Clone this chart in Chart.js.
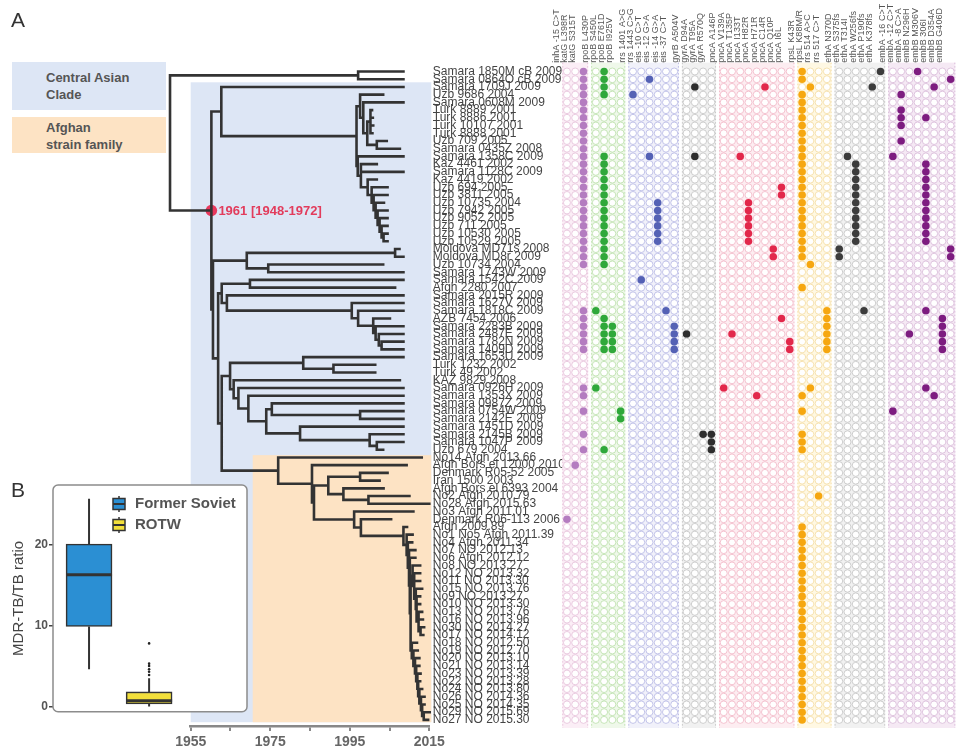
<!DOCTYPE html>
<html>
<head>
<meta charset="utf-8">
<title>MDR-TB phylogeny and resistance mutations</title>
<script src="https://cdn.jsdelivr.net/npm/chart.js@4.4.1/dist/chart.umd.min.js"></script>
<style>
  html, body { margin: 0; padding: 0; background: #fff; }
  #page { position: relative; width: 963px; height: 751px; overflow: hidden; font-family: 'Liberation Sans', Arial, sans-serif; }
  #page canvas { position: absolute; }
  .tag { position: absolute; font-size: 21px; color: #333; }
  .clade { position: absolute; left: 12px; width: 154px; box-sizing: border-box; padding-left: 34px;
           font-size: 13px; font-weight: bold; color: #555; line-height: 17px; }
</style>
</head>
<body>
<div id="page">
  <canvas id="tree" width="570" height="751" style="left:0;top:0"></canvas>
  <canvas id="matrix" width="423" height="751" style="left:540px;top:0"></canvas>
  <canvas id="ratio" width="255" height="250" style="left:0;top:470px"></canvas>
  <div class="tag" style="left:11px;top:8px">A</div>
  <div class="tag" style="left:11px;top:478px">B</div>
  <div class="clade" style="top:62px;height:48px;padding-top:7px;background:#dde6f5">Central Asian<br>Clade</div>
  <div class="clade" style="top:117px;height:36px;padding-top:2px;background:#fde3c4">Afghan<br>strain family</div>
</div>
<script>
// ---- tree tips (top to bottom) ----
const tipLabels = [
  'Samara 1850M cB 2009', 'Samara 0864O cB 2009', 'Samara 1709J 2009', 'Uzb 9686 2004', 'Samara 0608M 2009',
  'Turk 8889 2001', 'Turk 8886 2001', 'Turk 10107 2001', 'Turk 8888 2001', 'Uzb 709 2005',
  'Samara 0435Z 2008', 'Samara 1358C 2009', 'Kaz 4461 2002', 'Samara 1128C 2009', 'Kaz 4419 2002',
  'Uzb 694 2005', 'Uzb 3811 2005', 'Uzb 10735 2004', 'Uzb 7942 2005', 'Uzb 9052 2005',
  'Uzb 711 2005', 'Uzb 10530 2005', 'Uzb 10529 2005', 'Moldova MD71s 2008', 'Moldova MD8r 2009',
  'Uzb 10734 2004', 'Samara 1743W 2009', 'Samara 1542C 2009', 'Afgh 2280 2007', 'Samara 2015R 2009',
  'Samara 1627V 2009', 'Samara 1818C 2009', 'AZB 7454 2006', 'Samara 2283B 2009', 'Samara 2487E 2009',
  'Samara 1782N 2009', 'Samara 1409D 2009', 'Samara 1653U 2009', 'Turk 1232 2002', 'Turk 49 2002',
  'KAZ 9829 2008', 'Samara 0926H 2009', 'Samara 1353X 2009', 'Samara 0987Z 2009', 'Samara 0754W 2009',
  'Samara 2142E 2009', 'Samara 1451D 2009', 'Samara 2145B 2009', 'Samara 1047P 2009', 'Uzb 679 2004',
  'No14 Afgh 2013.66', 'Afgh Bors el 12000 2010', 'Denmark R05-52 2005', 'Iran 1500 2003', 'Afgh Bors el 6393 2004',
  'No2 Afgh 2010.79', 'No28 Afgh 2015.63', 'No3 Afgh 2011.01', 'Denmark R06-113 2006', 'Afgh 2009.89',
  'No1 No5 Afgh 2011.39', 'No4 Afgh 2011.34', 'No7 NO 2012.13', 'No6 Afgh 2012.12', 'No8 NO 2013.27',
  'No12 NO 2013.32', 'No11 NO 2013.30', 'No15 NO 2013.76', 'No9 NO 2013.27', 'No10 NO 2013.30',
  'No13 NO 2013.76', 'No16 NO 2013.96', 'No30 NO 2014.27', 'No17 NO 2014.12', 'No18 NO 2012.50',
  'No19 NO 2012.70', 'No20 NO 2013.10', 'No21 NO 2013.14', 'No23 NO 2013.39', 'No22 NO 2013.28',
  'No24 NO 2013.80', 'No26 NO 2014.36', 'No25 NO 2014.35', 'No29 NO 2015.69', 'No27 NO 2015.30'
];
// where each tip ends on the time axis
const tipYears = [
  2008.5, 2008.5, 2008.5, 2003.4, 2008.5, 2000.6, 2000.8, 2000.9, 2000.7, 2004.3,
  2007.6, 2008.5, 2001.8, 2008.5, 2001.8, 2004.5, 2004.5, 2003.6, 2004.5, 2004.5,
  2004.5, 2004.5, 2004.5, 2007.5, 2008.5, 2003.4, 2008.5, 2008.5, 2006.4, 2008.5,
  2008.5, 2008.5, 2005.1, 2008.5, 2008.5, 2008.5, 2008.5, 2008.5, 2001.4, 2001.4,
  2007.6, 2008.5, 2008.5, 2008.5, 2008.5, 2008.5, 2008.5, 2008.5, 2008.5, 2003.4,
  2013.1, 2009.3, 2004.5, 2002.5, 2003.5, 2010.0, 2015.0, 2011.0, 2005.4, 2009.4,
  2010.8, 2010.7, 2011.5, 2011.5, 2012.7, 2012.7, 2012.7, 2013.2, 2012.7, 2012.7,
  2013.2, 2013.4, 2013.7, 2013.5, 2011.9, 2012.1, 2012.5, 2012.5, 2012.8, 2012.7,
  2013.2, 2013.8, 2013.8, 2015.1, 2014.7
];
// internal nodes: [id, year, children...]  (numbers = tip rows, strings = nodes)
const treeNodes = [
  ['root', 1949.8, 'out', 'mrca'], ['out', 1997.1, 1, 2],
  ['mrca', 1960.2, 'b', 'x'], ['b', 1962.7, 3, 'c'], ['c', 1996.7, 'c1', 'c2'],
  ['c1', 1997.6, 4, 'c1a'], ['c1a', 1998.4, 5, 'c1b'], ['c1b', 1999.4, 'turk', 'c1c'],
  ['turk', 2000.2, 6, 7, 8, 9], ['c1c', 2001.8, 10, 11],
  ['c2', 1997.0, 12, 'c2a'], ['c2a', 1997.8, 13, 14, 'u1'], ['u1', 1999.5, 15, 'u2'], ['u2', 2000.5, 16, 'u3'],
  ['u3', 2001.0, 17, 'u4'], ['u4', 2001.5, 18, 'u5'], ['u5', 2002.0, 19, 'u6'], ['u6', 2002.5, 20, 'u7'],
  ['u7', 2003.0, 21, 'u8'], ['u8', 2003.5, 22, 23],
  ['x', 1960.6, 'd', 's'], ['d', 1969.1, 'md', 'd2'], ['md', 2006.4, 24, 25], ['d2', 1974.5, 26, 27],
  ['s', 1961.9, 'q2', 't'], ['q2', 1962.8, 'e', 'q1'], ['e', 1969.9, 28, 29], ['q1', 1964.1, 30, 'f'],
  ['f', 1995.5, 31, 'g'], ['g', 1997.1, 32, 'h'], ['h', 2000.9, 33, 'h1'], ['h1', 2001.5, 34, 'h2'],
  ['h2', 2002.3, 35, 'h3'], ['h3', 2003.0, 36, 37],
  ['t', 1962.8, 'u', 'af'], ['u', 1964.9, 'k', 'v1'], ['k', 1983.3, 38, 'k1'], ['k1', 1990.9, 39, 40],
  ['v1', 1965.8, 41, 'v2'], ['v2', 1967.0, 42, 'v3'], ['v3', 1969.5, 43, 'v4'], ['v4', 1974.0, 'v5', 'l'],
  ['v5', 1975.4, 44, 'm45'], ['m45', 1997.6, 45, 46], ['l', 1982.5, 47, 'l1'], ['l1', 2000.0, 48, 'l2'],
  ['l2', 2001.8, 49, 50],
  ['af', 1977.0, 51, 'af1'], ['af1', 1985.5, 52, 'af2'], ['af2', 1986.0, 'af3', 'af4'],
  ['af3', 1989.6, 'af3a', 'af3b'], ['af3a', 1997.6, 53, 54], ['af3b', 1993.4, 55, 'af3c'], ['af3c', 1999.7, 56, 57],
  ['af4', 1996.1, 58, 'af5'], ['af5', 1997.8, 59, 'af6'], ['af6', 2008.5, 60, 'no0'],
  ['no0', 2009.3, 61, 'no1'], ['no1', 2009.6, 62, 'no2'], ['no2', 2009.9, 63, 'no3'], ['no3', 2010.1, 64, 'no4'],
  ['no4', 2010.3, 'na', 'nb'],
  ['na', 2010.8, 65, 'na1'], ['na1', 2011.2, 66, 67, 'na2'], ['na2', 2011.6, 68, 'na3'],
  ['na3', 2011.8, 69, 70, 'na4'], ['na4', 2012.3, 71, 72, 'na5'], ['na5', 2012.8, 73, 74],
  ['nb', 2010.6, 75, 'nb1'], ['nb1', 2011.0, 76, 'nb2'], ['nb2', 2011.4, 77, 'nb3'], ['nb3', 2011.7, 78, 'nb4'],
  ['nb4', 2012.0, 79, 'nb5'], ['nb5', 2012.2, 80, 'nb6'], ['nb6', 2012.5, 81, 'nb7'], ['nb7', 2012.9, 82, 'nb8'],
  ['nb8', 2013.2, 83, 'nb9'], ['nb9', 2013.6, 84, 85]
];
const tmrcaNode = 'mrca';
const tmrcaText = '1961 [1948-1972]';
const axisYears = [1955, 1965, 1975, 1985, 1995, 2005, 2015];
const labelledYears = [1955, 1975, 1995, 2015];
// shaded clades: start year, first/last row edge
const cladeFrom = [1955, 1970.6];
const cladeRows = [[2.4, 85.3], [50.7, 85.3]];

// ---- mutation matrix ----
const mutLabels = [
  'inhA -15 C>T', 'katG L398R', 'katG S315T',
  'rpoB L430P', 'rpoB S450L', 'rpoB E761D', 'rpoB I925V',
  'rrs 1401 A>G', 'rrs 1443 C>G', 'eis -10 C>T', 'eis -12 G>A', 'eis -14 G>A', 'eis -37 C>T',
  'gyrB A504V', 'gyrA D94A', 'gyrA T95A', 'gyrA R570Q',
  'pncA A146P', 'pncA V139A', 'pncA T135P', 'pncA I133T', 'pncA H82R', 'pncA H71R', 'pncA C14R', 'pncA Q10P', 'pncA I6L',
  'rpsL K43R', 'rpsL K88M/R', 'rrs 514 A>C', 'rrs 517 C>T',
  'ethA N370D', 'ethA S375fs', 'ethA T314I', 'ethA W256fs', 'ethA P190fs', 'ethA K378fs',
  'embA -16 C>T', 'embA -12 C>T', 'embA -8 C>A', 'embB N296H', 'embB M306V', 'embB 306I', 'embB D354A', 'embB G406D'
];
// rows carrying each mutation, one list per column of the gene group
const hitsInhKatG = [
  [59], [52],
  [1, 2, 3, 4, 5, 6, 7, 8, 9, 10, 11, 12, 13, 14, 15, 16, 17, 18, 19, 20, 21, 22, 23, 24, 25, 26,
   32, 33, 34, 35, 36, 37, 42, 43, 45, 48, 50]
];
const hitsRpoB = [
  [32, 42],
  [1, 2, 3, 4, 12, 13, 14, 15, 16, 17, 18, 19, 20, 21, 22, 23, 24, 25, 26, 33, 34, 35, 36, 37, 50],
  [34, 35, 36, 37], [45, 46]
];
const hitsRrsEis = [[4], [28], [2, 12], [18, 19, 20, 21, 22, 23], [32], [34, 35, 36, 37]];
const hitsGyr = [[35], [3, 12], [48], [48, 49, 50]];
const hitsPncA = [[42], [35], [12], [18, 19, 20, 21, 22, 23], [43], [3], [24, 25], [16, 17, 33], [36, 37]];
const hitsRpsRrs = [
  [1, 2, 4, 5, 6, 7, 8, 9, 10, 11, 12, 13, 14, 15, 16, 17, 18, 19, 20, 21, 22, 23, 24, 25, 29, 43, 45, 48, 49, 50,
   60, 61, 62, 63, 64, 65, 66, 67, 68, 69, 70, 71, 72, 73, 74, 75, 76, 77, 78, 79, 80, 81, 82, 83, 84, 85],
  [3, 26, 42], [56], [32, 33, 34, 35, 36, 37]
];
const hitsEthA = [[24, 25], [12], [13, 14, 15, 16, 17, 18, 19, 20, 21, 22, 23], [32], [3], [1]];
const hitsEmb = [
  [12, 45], [4, 6, 7, 8, 10], [35], [1],
  [7, 13, 14, 15, 16, 17, 18, 19, 20, 21, 22, 23, 32, 42],
  [3, 43], [33, 34, 35, 36, 37], [2, 24, 25]
];

// ---- inset B: MDR-TB/TB ratio ----
const boxGroups = ['Former Soviet', 'ROTW'];
const boxLow = [4.6, 0];
const boxQ1 = [9.9, 0.3];
const boxMedian = [16.3, 0.7];
const boxQ3 = [20.1, 1.8];
const boxHigh = [25.7, 3.5];
const rotwOutliers = [3.9, 4.3, 4.6, 5.0, 5.3, 7.8];
const ratioTicks = [0, 10, 20];

const FONT = "'Liberation Sans', Arial, sans-serif";
Chart.defaults.font.family = FONT;
Chart.defaults.animation = false;
Chart.defaults.events = [];
Chart.defaults.plugins.legend.display = false;
Chart.defaults.plugins.tooltip.enabled = false;

// ===== tree =====
const nodeById = {};
treeNodes.forEach(n => { nodeById[n[0]] = n; });
const treeSegs = [];
const nodeY = {};
function place(child) {
  if (typeof child === 'number') return { x: tipYears[child - 1], y: child };
  const [id, t, ...kids] = nodeById[child];
  const pts = kids.map(place);
  const top = pts[0].y, bottom = pts[pts.length - 1].y;
  treeSegs.push({ x: t, y: top }, { x: t, y: bottom }, { x: t, y: null });
  pts.forEach(p => treeSegs.push({ x: t, y: p.y }, { x: p.x, y: p.y }, { x: p.x, y: null }));
  nodeY[id] = (top + bottom) / 2;
  return { x: t, y: nodeY[id] };
}
place('root');

const cladeColors = ['#dde6f5', '#fde3c4'];
const cladeShading = {
  id: 'cladeShading',
  beforeDatasetsDraw(chart) {
    const { ctx, scales: { x, y } } = chart;
    ctx.save();
    cladeFrom.forEach((from, i) => {
      const left = x.getPixelForValue(from), right = x.getPixelForValue(2015.5);
      const top = y.getPixelForValue(cladeRows[i][0]), bottom = y.getPixelForValue(cladeRows[i][1]);
      ctx.fillStyle = cladeColors[i];
      ctx.fillRect(left, top, right - left, bottom - top);
    });
    ctx.restore();
  }
};
const tmrcaLabel = {
  id: 'tmrcaLabel',
  afterDatasetsDraw(chart) {
    const { ctx, scales: { x, y } } = chart;
    const px = x.getPixelForValue(nodeById[tmrcaNode][1]), py = y.getPixelForValue(nodeY[tmrcaNode]);
    ctx.save();
    ctx.fillStyle = '#e23c5c';
    ctx.font = `bold 13px ${FONT}`;
    ctx.textBaseline = 'middle';
    ctx.fillText(tmrcaText, px + 7, py + 1);
    ctx.restore();
  }
};

new Chart(document.getElementById('tree'), {
  type: 'line',
  data: {
    datasets: [
      { data: treeSegs, borderColor: '#333', borderWidth: 2.6, pointRadius: 0, spanGaps: false,
        clip: false, borderCapStyle: 'square', tension: 0 },
      { type: 'scatter', data: [{ x: nodeById[tmrcaNode][1], y: nodeY[tmrcaNode] }],
        pointRadius: 5.8, pointBackgroundColor: '#e8385c', pointBorderWidth: 0, clip: false }
    ]
  },
  options: {
    responsive: false,
    layout: { padding: { left: 190.7, top: 67.64, right: 0, bottom: 0 } },
    scales: {
      x: {
        type: 'linear', min: 1955, max: 2015,
        afterBuildTicks: a => { a.ticks = axisYears.map(v => ({ value: v })); },
        afterFit: a => { a.height = 25; },
        grid: { drawOnChartArea: false, tickLength: 5, color: '#888', lineWidth: 2 },
        border: { color: '#888', width: 2.5 },
        ticks: { autoSkip: false, maxRotation: 0, padding: 3, color: '#666',
                 font: { size: 14, weight: 'bold' },
                 callback: v => labelledYears.includes(v) ? String(v) : '' }
      },
      y: {
        type: 'linear', position: 'right', reverse: true, min: 0.5, max: 85.79,
        afterBuildTicks: a => { a.ticks = tipLabels.map((_, i) => ({ value: i + 1 })); },
        afterFit: a => { a.width = 140.7; },
        grid: { display: false, drawTicks: false },
        border: { display: false },
        ticks: { autoSkip: false, padding: 3.5, color: '#444', font: { size: 12 },
                 callback: (v, i) => tipLabels[i] }
      }
    }
  },
  plugins: [cladeShading, tmrcaLabel]
});

// ===== mutation matrix =====
const groupHits = [hitsInhKatG, hitsRpoB, hitsRrsEis, hitsGyr, hitsPncA, hitsRpsRrs, hitsEthA, hitsEmb];
const groupTint = ['#fbeef6', '#eff8ea', '#f1f1fa', '#f1f1f1', '#fdedf1', '#fff8e3', '#f1f1f1', '#f5e9f4'];
const groupRing = ['#e8c5dc', '#bfe2b0', '#bcbde6', '#c8c8c8', '#f3bccb', '#f5dfa8', '#c8c8c8', '#dbbedb'];
const groupFill = ['#b47cc0', '#2fa83a', '#5461b5', '#2e2e2e', '#e2284b', '#f6a710', '#3c3c3c', '#7d1c80'];

const colGroup = [];
groupHits.forEach((hits, g) => hits.forEach(() => colGroup.push(g)));
const colPos = colGroup.map((g, i) => i + g * 0.5);
const rowIds = tipLabels.map((_, i) => i + 1);

const matrixSets = [];
let colStart = 0;
groupHits.forEach((hits, g) => {
  const open = [], filled = [];
  hits.forEach((rowsHit, k) => {
    const pos = colPos[colStart + k];
    rowIds.forEach(r => { if (!rowsHit.includes(r)) open.push({ x: pos, y: r }); });
    rowsHit.forEach(r => filled.push({ x: pos, y: r }));
  });
  colStart += hits.length;
  matrixSets.push({ data: open, pointRadius: 3.5, pointBorderWidth: 0.9, pointBorderColor: groupRing[g],
                    pointBackgroundColor: '#fff', clip: false });
  matrixSets.push({ data: filled, pointRadius: 3.8, pointBorderWidth: 0, pointBackgroundColor: groupFill[g], clip: false });
});

const groupPanels = {
  id: 'groupPanels',
  beforeDatasetsDraw(chart) {
    const { ctx, chartArea: a, scales: { x } } = chart;
    let first = 0;
    groupHits.forEach((hits, g) => {
      const left = x.getPixelForValue(colPos[first]) - 4.7;
      const right = x.getPixelForValue(colPos[first + hits.length - 1]) + 4.7;
      ctx.save();
      ctx.fillStyle = groupTint[g];
      ctx.fillRect(left, a.top - 5, right - left, a.bottom - a.top + 7);
      ctx.strokeStyle = groupRing[g];
      ctx.lineWidth = 1;
      ctx.setLineDash([1.5, 2]);
      ctx.beginPath();
      ctx.moveTo(left + 0.5, a.top - 5); ctx.lineTo(left + 0.5, a.bottom + 2);
      ctx.moveTo(right - 0.5, a.top - 5); ctx.lineTo(right - 0.5, a.bottom + 2);
      ctx.stroke();
      ctx.restore();
      first += hits.length;
    });
  }
};

new Chart(document.getElementById('matrix'), {
  type: 'scatter',
  data: { datasets: matrixSets },
  options: {
    responsive: false,
    layout: { padding: { left: 21.6, right: 6.6, top: 0, bottom: 25 } },
    scales: {
      x: {
        type: 'linear', position: 'top', min: -0.65, max: 47.2,
        afterBuildTicks: a => { a.ticks = colPos.map(v => ({ value: v })); },
        afterFit: a => { a.height = 67.64; },
        grid: { display: false, drawTicks: false },
        border: { display: false },
        ticks: { autoSkip: false, minRotation: 90, maxRotation: 90, padding: 5, color: '#555',
                 font: { size: 9 }, callback: (v, i) => mutLabels[i] }
      },
      y: { type: 'linear', reverse: true, min: 0.5, max: 85.79, display: false }
    }
  },
  plugins: [groupPanels]
});

// ===== inset boxplot =====
const boxColors = ['#2b8fd3', '#f2df3b'];
const whiskerPts = [];
boxGroups.forEach((_, i) => {
  const x = i + 1;
  whiskerPts.push({ x, y: boxLow[i] }, { x, y: boxQ1[i] }, { x, y: null },
                  { x, y: boxQ3[i] }, { x, y: boxHigh[i] }, { x, y: null });
});

const panelFrame = {
  id: 'panelFrame',
  beforeDraw(chart) {
    const { ctx, chartArea: a } = chart;
    ctx.save();
    ctx.fillStyle = '#fff';
    ctx.beginPath(); ctx.roundRect(a.left, a.top, a.width, a.height, 5); ctx.fill();
    ctx.restore();
  },
  afterDraw(chart) {
    const { ctx, chartArea: a } = chart;
    ctx.save();
    ctx.strokeStyle = '#8c8c8c';
    ctx.lineWidth = 1.5;
    ctx.beginPath(); ctx.roundRect(a.left, a.top, a.width, a.height, 5); ctx.stroke();
    ctx.restore();
  }
};
const boxMedians = {
  id: 'boxMedians',
  afterDatasetsDraw(chart) {
    const { ctx, scales: { y } } = chart;
    boxGroups.forEach((_, i) => {
      const bar = chart.getDatasetMeta(i).data[0];
      const py = y.getPixelForValue(boxMedian[i]);
      ctx.save();
      ctx.strokeStyle = '#333';
      ctx.lineWidth = 3;
      ctx.beginPath(); ctx.moveTo(bar.x - bar.width / 2, py); ctx.lineTo(bar.x + bar.width / 2, py); ctx.stroke();
      ctx.restore();
    });
  }
};
const boxLegend = {
  id: 'boxLegend',
  afterDraw(chart) {
    const { ctx, chartArea: a } = chart;
    boxGroups.forEach((name, i) => {
      const cx = a.left + 66, cy = a.top + 19 + i * 21;
      ctx.save();
      ctx.strokeStyle = '#333';
      ctx.lineWidth = 1.5;
      ctx.beginPath(); ctx.moveTo(cx, cy - 8); ctx.lineTo(cx, cy + 8); ctx.stroke();
      ctx.fillStyle = boxColors[i];
      ctx.fillRect(cx - 6, cy - 5.5, 12, 11);
      ctx.strokeRect(cx - 6, cy - 5.5, 12, 11);
      ctx.lineWidth = 2;
      ctx.beginPath(); ctx.moveTo(cx - 6, cy); ctx.lineTo(cx + 6, cy); ctx.stroke();
      ctx.fillStyle = '#555';
      ctx.font = `bold 15px ${FONT}`;
      ctx.textBaseline = 'middle';
      ctx.fillText(name, cx + 16, cy);
      ctx.restore();
    });
  }
};

new Chart(document.getElementById('ratio'), {
  type: 'bar',
  data: {
    datasets: [
      ...boxGroups.map((name, i) => ({
        type: 'bar', label: name, data: [{ x: i + 1, y: [boxQ1[i], boxQ3[i]] }],
        backgroundColor: boxColors[i], borderColor: '#333', borderWidth: 1.6, borderSkipped: false,
        barThickness: 46, grouped: false, order: 1
      })),
      { type: 'line', label: 'whiskers', data: whiskerPts, borderColor: '#333', borderWidth: 2,
        pointRadius: 0, spanGaps: false, order: 3 },
      { type: 'scatter', label: 'outliers', data: rotwOutliers.map(v => ({ x: 2, y: v })),
        pointRadius: 1.3, pointBackgroundColor: '#222', pointBorderWidth: 0, order: 0 }
    ]
  },
  options: {
    responsive: false,
    layout: { padding: { top: 15, right: 8, bottom: 8, left: 0 } },
    scales: {
      x: { type: 'linear', min: 0.4, max: 3.63, offset: false, display: false },
      y: {
        min: -0.66, max: 27.4,
        afterBuildTicks: a => { a.ticks = ratioTicks.map(v => ({ value: v })); },
        afterFit: a => { a.width = 53; },
        grid: { drawOnChartArea: false, tickLength: 4, color: '#444', lineWidth: 1.5 },
        border: { display: false },
        ticks: { padding: 1, color: '#555', font: { size: 12, weight: 'bold' } },
        title: { display: true, text: 'MDR-TB/TB ratio', color: '#444', font: { size: 15 },
                 padding: { top: 10, bottom: 0 } }
      }
    }
  },
  plugins: [panelFrame, boxMedians, boxLegend]
});
</script>
</body>
</html>
